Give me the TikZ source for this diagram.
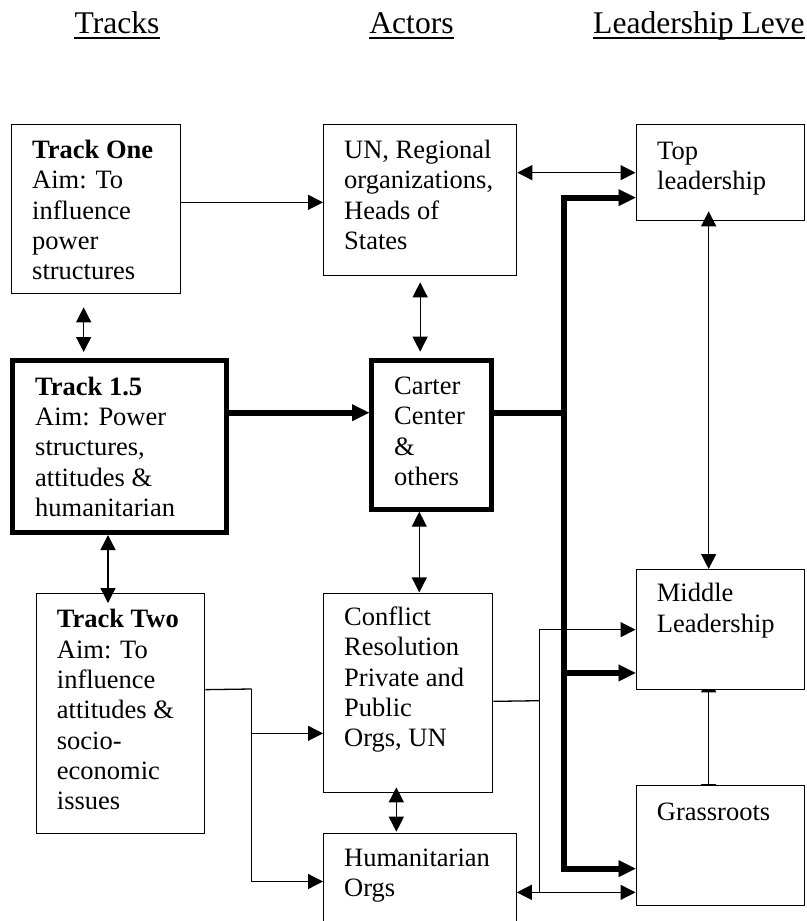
\documentclass[tikz,border=0pt]{standalone}
\usepackage{fontspec}
\setmainfont{Liberation Serif}
\usetikzlibrary{arrows.meta, positioning, backgrounds}
\newcommand\bodysize{\fontsize{26.5}{30.3}\selectfont}
\newcommand\headsize{\fontsize{31.6}{36}\selectfont}
\tikzset{
  % plain frame of a diagram cell; its size is given per cell
  cell/.style={draw, line width=1.3pt, fill=white, inner sep=0pt, anchor=north west},
  keycell/.style={cell, line width=5pt},
  % the words in a cell, flush left below its top corner
  words/.style={inner sep=0pt, align=left, font=\bodysize,
                execute at begin node={\rule{0pt}{20pt}}},
  colhead/.style={inner sep=0pt, font=\headsize},
  underbar/.style={line width=1.6pt},
  % arrows
  wire/.style={line width=1.3pt},
  flow/.style={wire, -{Triangle[length=15pt,width=15pt]}},
  biflow/.style={wire, {Triangle[length=15pt,width=15pt]}-{Triangle[length=15pt,width=15pt]}},
  heavy/.style={line width=6pt},
  heavyflow/.style={heavy, -{Triangle[length=17pt,width=17pt,line width=0.1pt]}},
}
\begin{document}
\begin{tikzpicture}[x=1pt, y=-1pt]
\useasboundingbox (0,0) rectangle (806,921);

% ------------------------------- column heads ------------------------------
\node[colhead, anchor=base] (hdtracks) at (117,33.3) {Tracks};
\node[colhead, anchor=base] (hdactors) at (411.5,33.3) {Actors};
\node[colhead, anchor=base west] (hdlevels) at (593,33.3) {Leadership Leve};
\foreach \h in {hdtracks, hdactors, hdlevels}
  \draw[underbar] ([yshift=-4.4pt]\h.base west) -- ([yshift=-4.4pt]\h.base east);

% ------------------------------- tracks ------------------------------------
\node[cell, minimum width=169pt, minimum height=168.5pt] (one) at (11,124) {};
\node[words, below right=16pt and 21pt of one.north west] (onetxt)
      {\textbf{Track One}\\Aim: To\\influence\\power\\structures};
\node[keycell, minimum width=214pt, minimum height=172.3pt] (half) at (10,357.7) {};
\node[words, below right=19pt and 25pt of half.north west] (halftxt)
      {\textbf{Track 1.5}\\Aim: Power\\structures,\\attitudes \&\\humanitarian};
\node[cell, minimum width=168.3pt, minimum height=240.3pt] (two) at (35.7,592.7) {};
\node[words, below right=16.6pt and 21pt of two.north west] (twotxt)
      {\textbf{Track Two}\\Aim: To\\influence\\attitudes \&\\socio-\\economic\\issues};

% ------------------------------- actors ------------------------------------
\node[cell, minimum width=193pt, minimum height=151pt] (un) at (323,124) {};
\node[words, below right=16pt and 21pt of un.north west] (untxt)
      {UN, Regional\\organizations,\\Heads of\\States};
\node[keycell, minimum width=120pt, minimum height=149pt] (carter) at (369,357.7) {};
\node[words, below right=19pt and 25pt of carter.north west] (cartertxt)
      {Carter\\Center\\\&\\others};
\node[cell, minimum width=169pt, minimum height=198.7pt] (conflict) at (323,593) {};
\node[words, below right=13.7pt and 21pt of conflict.north west] (conflicttxt)
      {Conflict\\Resolution\\Private and\\Public\\Orgs, UN};
\node[cell, minimum width=192.5pt, minimum height=96.3pt] (human) at (323,832.7) {};
\node[words, below right=15.6pt and 21pt of human.north west] (humantxt)
      {Humanitarian\\Orgs};

% ------------------------------- leadership levels -------------------------
\node[cell, minimum width=168.5pt, minimum height=96pt] (top) at (635.5,124) {};
\node[words, below right=18pt and 21.5pt of top.north west] (toptxt)
      {Top\\leadership};
\node[cell, minimum width=168.5pt, minimum height=120pt] (middle) at (635.5,569) {};
\node[words, below right=14.3pt and 21.2pt of middle.north west] (middletxt)
      {Middle\\Leadership};
\node[cell, minimum width=168.5pt, minimum height=120pt] (grass) at (635.5,785) {};
\node[words, below right=15pt and 21.2pt of grass.north west] (grasstxt)
      {Grassroots};

% ------------------------------- top row arrows ----------------------------
\draw[flow] ([yshift=6.55pt]one.east) -- ([yshift=6.55pt]one.east -| un.west);
\draw[biflow] (top.west) -- (top.west -| un.east);

% ------------------------------- heavy arrows ------------------------------
\draw[heavyflow] ([yshift=33.65pt]half.east) -- ([yshift=33.65pt]half.east -| carter.west);
\coordinate (bus) at (563.5,412.7);
\draw[heavy] ([yshift=22pt]carter.east) -- (bus);
\draw[heavyflow] (bus) |- ([yshift=-25pt]top.west);
\draw[heavyflow] (bus) |- ([yshift=-43.3pt]middle.west);
\draw[heavyflow] (bus) |- ([yshift=-23pt]grass.west);

% ------------------------------- vertical links ----------------------------
\draw[biflow, shorten <=13.5pt, shorten >=5.7pt]
      ([xshift=-12.5pt]one.south) -- ([xshift=-12.5pt]one.south |- half.north);
\draw[biflow, shorten <=6pt, shorten >=6pt] (un.south) -- (un.south |- carter.north);
\draw[biflow, shorten >=-10.3pt]
      ([xshift=-11.5pt]half.south) -- ([xshift=-11.5pt]half.south |- two.north);
\draw[biflow, shorten >=0.6pt]
      ([xshift=-12.2pt]carter.south) -- ([xshift=-12.2pt]carter.south |- conflict.north);
\draw[biflow, shorten <=-5.7pt, shorten >=1pt]
      ([xshift=-11.8pt]conflict.south) -- ([xshift=-11.8pt]conflict.south |- human.north);
\draw[biflow, shorten <=-10pt]
      ([xshift=-11.75pt]top.south) -- ([xshift=-11.75pt]top.south |- middle.north);
\begin{scope}[on background layer]
  % tips of this one sit behind the two cells
  \draw[biflow, shorten <=-13pt, shorten >=-14pt]
        ([xshift=-11.75pt]middle.south) -- ([xshift=-11.75pt]middle.south |- grass.north);
\end{scope}

% ------------------------------- Track Two fork ----------------------------
\coordinate (twofork) at (251.7,689);
\draw[wire] ([yshift=23.85pt]two.east) -- (twofork);
\draw[flow] (twofork) |- ([yshift=-40.35pt]conflict.west);
\draw[flow] (twofork) |- (human.west);

% ------------------------------- conflict fork -----------------------------
\coordinate (confork) at (539.3,700.7);
\coordinate (grasslow) at ([yshift=-46.7pt]grass.west);
\draw[wire] ([yshift=-8.35pt]conflict.east) -- (confork);
\draw[flow] (confork) |- (middle.west);
\draw[wire] (confork) -- (confork |- grasslow);
\draw[biflow] (grasslow) -- (grasslow -| human.east);

\end{tikzpicture}
\end{document}
